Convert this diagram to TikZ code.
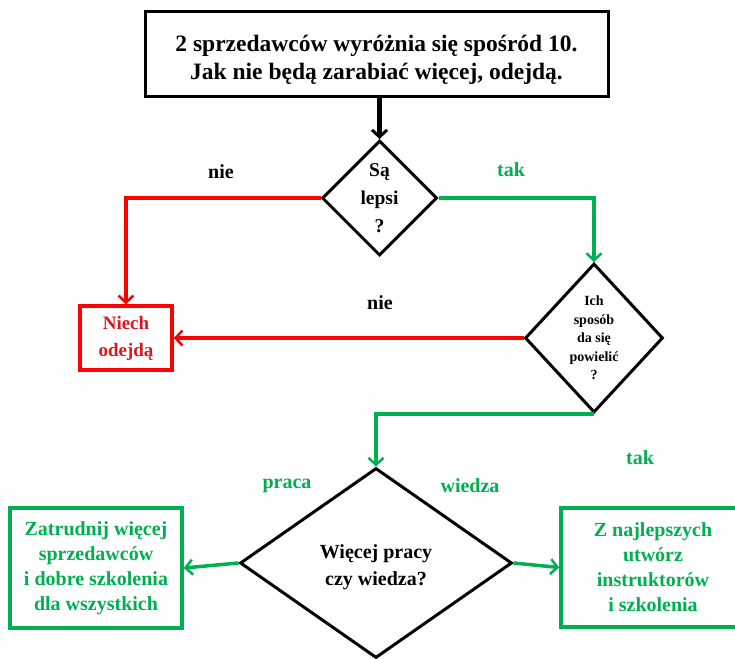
\documentclass[tikz,border=0pt]{standalone}
\usepackage{fontspec}
\setmainfont{Liberation Serif}
\usetikzlibrary{shapes.geometric,arrows.meta}
\definecolor{okgreen}{RGB}{0,176,80}
\definecolor{stopred}{RGB}{255,0,0}
\definecolor{stoptext}{RGB}{215,25,35}
\newcommand{\lowered}[2]{\raisebox{-#1}[\height][\depth]{\begin{tabular}{@{}c@{}}#2\end{tabular}}}
\tikzset{
  fs/.style 2 args={font=\bfseries\fontsize{#1}{#2}\selectfont},
  decision/.style={diamond,draw=black,line width=3pt,inner sep=0pt,align=center},
  headbox/.style={draw=black,line width=3pt,align=center,inner sep=0pt},
  stopbox/.style={draw=stopred,line width=3.5pt,align=center,inner sep=0pt,text=stoptext},
  gobox/.style={draw=okgreen,line width=3.5pt,align=center,inner sep=0pt,text=okgreen},
  tip/.style={-{Straight Barb[length=7pt,width=15pt,line width=#1]}},
  blackarrow/.style={draw=black,line width=5pt,tip=3pt},
  redarrow/.style={draw=stopred,line width=3.5pt,tip=2.5pt},
  greenarrow/.style={draw=okgreen,line width=3.5pt,tip=2.5pt},
  lab/.style={fs={20}{24}}
}
\begin{document}
\begin{tikzpicture}[x=1pt,y=-1pt]
  \clip (0,0) rectangle (735,658);
  \fill[white] (0,0) rectangle (735,658);

  % boxes
  \node[headbox,fs={23.5}{28},minimum width=463pt,minimum height=85pt] (head) at (376.5,54.5)
    {\lowered{5pt}{2 sprzedawców wyróżnia się spośród 10.\\Jak nie będą zarabiać więcej, odejdą.}};
  \node[stopbox,fs={19}{27},minimum width=92pt,minimum height=64pt] (niech) at (126,338)
    {Niech\\odejdą};
  \node[gobox,fs={20}{25},minimum width=172pt,minimum height=120pt] (hire) at (96,568)
    {Zatrudnij więcej\\sprzedawców\\i dobre szkolenia\\dla wszystkich};
  \node[gobox,fs={20}{25},minimum width=184pt,minimum height=119pt] (teach) at (653,567.5)
    {Z najlepszych\\utwórz\\instruktorów\\i szkolenia};

  % decisions
  \node[decision,fs={19.5}{28},minimum width=115pt,minimum height=115pt] (better) at (379.5,198)
    {Są\\lepsi\\?};
  \node[decision,fs={14}{18.5},aspect=0.93,minimum width=138pt,minimum height=149pt] (copy) at (594,338)
    {Ich\\sposób\\da się\\powielić\\?};
  \node[decision,fs={20}{27},minimum width=272pt,minimum height=190pt] (which) at (376,563)
    {\lowered{4pt}{Więcej pracy\\czy wiedza?}};

  % connectors
  \draw[blackarrow] (better.north |- head.south) -- (better.north);
  \draw[redarrow] (better.west) -| (niech.north);
  \draw[greenarrow] (better.east) -| (copy.north);
  \draw[redarrow] (copy.west) -- (niech.east);
  \draw[greenarrow] (copy.south) -| (which.north);
  \draw[greenarrow] (which.west) -- (hire.east);
  \draw[greenarrow] (which.east) -- (teach.west);

  % branch labels
  \node[lab] (nieA) at (221,172) {nie};
  \node[lab,text=okgreen] (takA) at (511,170) {tak};
  \node[lab] (nieB) at (380,303) {nie};
  \node[lab,text=okgreen] (takB) at (640,458) {tak};
  \node[lab,text=okgreen] (praca) at (287,486) {praca};
  \node[lab,text=okgreen] (wiedza) at (470,486) {wiedza};
\end{tikzpicture}
\end{document}
